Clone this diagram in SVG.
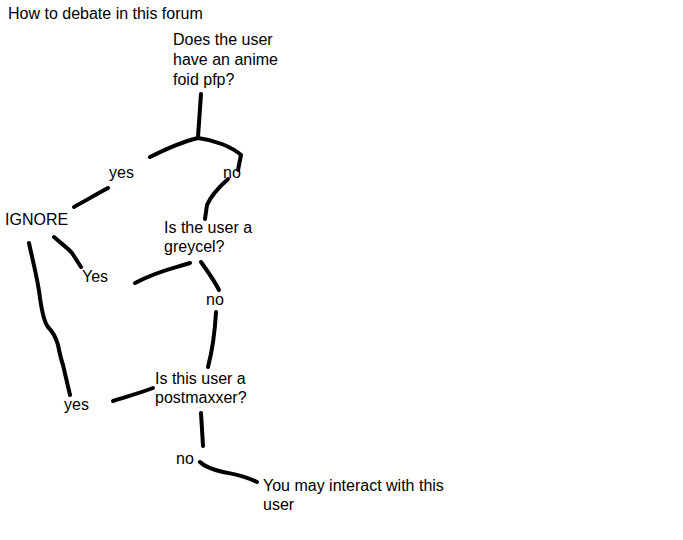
<svg xmlns="http://www.w3.org/2000/svg" width="683" height="540" viewBox="0 0 683 540">
<style>
text{font-family:"Liberation Sans",Arial,sans-serif;font-size:16px;fill:#000}
.s{fill:none;stroke:#000;stroke-width:4;stroke-linecap:round;stroke-linejoin:round}
</style>
<rect width="683" height="540" fill="#fff"/>
<text id="title" x="8" y="19">How to debate in this forum</text>
<g id="connectors">
<path class="s" d="M201,94 L198,137"/>
<path class="s" d="M198,138 C185,141 172,146 150,157"/>
<path class="s" d="M198,138 C215,140 232,147 241,155 L238,170"/>
<path class="s" d="M108,188 C95,195 85,201 74,207"/>
<path class="s" d="M228,179 C218,188 210,198 207,205 L205,219"/>
<path class="s" d="M54,237 C62,244 70,250 72,253 L81,267"/>
<path class="s" d="M190,263 C175,268 160,270 135,283"/>
<path class="s" d="M201,262 C208,272 214,280 219,290"/>
<path class="s" d="M216,312 C215,330 213,348 208,367"/>
<path class="s" d="M29,243 C33,262 38,280 40,298 C42,312 44,322 48,327 C53,332 56,338 58,345 C60,355 62,362 63,365 L70,395"/>
<path class="s" d="M153,388 C140,393 125,397 113,401"/>
<path class="s" d="M201,413 L203,446"/>
<path class="s" d="M200,462 C204,466 210,469 223,472 C232,474 240,474 257,482"/>
</g>
<g id="q1"><text x="173" y="45">Does the user</text><text x="173" y="65">have an anime</text><text x="173" y="85">foid pfp?</text></g>
<g id="yes1"><text x="109" y="178">yes</text></g>
<g id="no1"><text x="223" y="178">no</text></g>
<g id="ignore"><text x="5" y="225">IGNORE</text></g>
<g id="q2"><text x="164" y="233">Is the user a</text><text x="164" y="252">greycel?</text></g>
<g id="yes2"><text x="82" y="282">Yes</text></g>
<g id="no2"><text x="206" y="305">no</text></g>
<g id="q3"><text x="155" y="384">Is this user a</text><text x="155" y="403">postmaxxer?</text></g>
<g id="yes3"><text x="64" y="410">yes</text></g>
<g id="no3"><text x="176" y="464">no</text></g>
<g id="result"><text x="263" y="491">You may interact with this</text><text x="263" y="510">user</text></g>
</svg>
